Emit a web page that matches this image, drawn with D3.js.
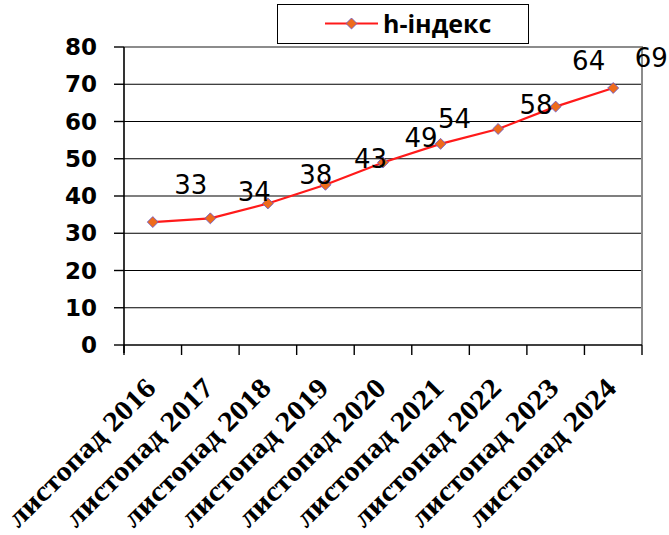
<!DOCTYPE html>
<html>
<head>
<meta charset="utf-8">
<script src="https://cdn.jsdelivr.net/npm/d3@7"></script>
<style>
  html, body { margin: 0; padding: 0; background: #fff; }
  svg { display: block; }
</style>
</head>
<body>
<svg id="chart" width="669" height="535"></svg>
<script>
// ---- data ----
const categories = ["листопад 2016", "листопад 2017", "листопад 2018", "листопад 2019",
                    "листопад 2020", "листопад 2021", "листопад 2022", "листопад 2023", "листопад 2024"];
const hIndex = [33, 34, 38, 43, 49, 54, 58, 64, 69];
const yTicks = [0, 10, 20, 30, 40, 50, 60, 70, 80];
const seriesName = "h-індекс";
// manual label nudges (as placed in the original chart)
const labelDx = [38, 44, 48, 45, 38, 14, 38, 33, 38];
const labelDy = [-37, -26, -28, -26, -24, -25, -24, -46, -30];

// ---- layout ----
const svg = d3.select("#chart");
const plot = { left: 124, right: 642, top: 47, bottom: 345 };

const x = d3.scaleBand().domain(categories).range([plot.left, plot.right]).padding(0);
const y = d3.scaleLinear().domain([0, 80]).range([plot.bottom, plot.top]);
const cx = c => x(c) + x.bandwidth() / 2;

svg.append("rect").attr("width", 669).attr("height", 535).attr("fill", "#fff");

// gridlines
svg.append("g").selectAll("line").data(yTicks.filter(t => t > 0 && t < 80)).join("line")
  .attr("x1", plot.left).attr("x2", plot.right)
  .attr("y1", d => y(d)).attr("y2", d => y(d))
  .attr("stroke", "#000").attr("stroke-width", 1.2);

// plot border (top/right gray)
svg.append("path")
  .attr("d", `M${plot.left},${y(80)}H${plot.right}V${plot.bottom}`)
  .attr("fill", "none").attr("stroke", "#8c8c8c").attr("stroke-width", 2);

// y axis
const yAxis = svg.append("g");
yAxis.append("line").attr("x1", plot.left).attr("x2", plot.left)
  .attr("y1", y(80)).attr("y2", plot.bottom + 8).attr("stroke", "#000").attr("stroke-width", 1.6);
yAxis.selectAll("line.tick").data(yTicks).join("line").attr("class", "tick")
  .attr("x1", plot.left - 10).attr("x2", plot.left)
  .attr("y1", d => y(d)).attr("y2", d => y(d))
  .attr("stroke", "#000").attr("stroke-width", 1.4);
yAxis.selectAll("text").data(yTicks).join("text")
  .attr("x", 97).attr("y", d => y(d))
  .attr("text-anchor", "end").attr("dominant-baseline", "central")
  .attr("font-family", "DejaVu Sans").attr("font-weight", "bold").attr("font-size", 23)
  .attr("fill", "#000")
  .text(d => d);

// x axis
const xAxis = svg.append("g");
xAxis.append("line").attr("x1", plot.left).attr("x2", plot.right)
  .attr("y1", plot.bottom).attr("y2", plot.bottom).attr("stroke", "#000").attr("stroke-width", 1.6);
const bounds = categories.map(c => x(c)).concat([x(categories[categories.length - 1]) + x.bandwidth()]);
xAxis.selectAll("line.tick").data(bounds).join("line").attr("class", "tick")
  .attr("x1", d => d).attr("x2", d => d)
  .attr("y1", plot.bottom).attr("y2", plot.bottom + 10)
  .attr("stroke", "#000").attr("stroke-width", 1.4);
xAxis.selectAll("text").data(categories).join("text")
  .attr("transform", c => `translate(${cx(c) - 2},${plot.bottom + 38}) rotate(-45) scale(1.1,1)`)
  .attr("text-anchor", "end").attr("dominant-baseline", "central")
  .attr("font-family", "Liberation Serif").attr("font-weight", "bold").attr("font-size", 28)
  .attr("fill", "#000")
  .text(c => c);

// line
const line = d3.line().x((d, i) => cx(categories[i])).y(d => y(d));
svg.append("path").datum(hIndex).attr("d", line)
  .attr("fill", "none").attr("stroke", "#ff1a1a").attr("stroke-width", 2.2);

// markers (square rotated 45°)
const marker = d3.symbol().type(d3.symbolSquare).size(60);
svg.append("g").selectAll("path").data(hIndex).join("path")
  .attr("transform", (d, i) => `translate(${cx(categories[i])},${y(d)}) rotate(45)`)
  .attr("d", marker)
  .attr("fill", "#ee6b1c").attr("stroke", "#6a5acd").attr("stroke-width", 0.8);

// data labels
svg.append("g").selectAll("text").data(hIndex).join("text")
  .attr("x", (d, i) => cx(categories[i]) + labelDx[i])
  .attr("y", (d, i) => y(d) + labelDy[i])
  .attr("text-anchor", "middle").attr("dominant-baseline", "central")
  .attr("font-family", "DejaVu Sans").attr("font-size", 26).attr("fill", "#000")
  .text(d => d);

// legend
const lg = svg.append("g");
lg.append("rect").attr("x", 277.5).attr("y", 4.5).attr("width", 251).attr("height", 39)
  .attr("fill", "#fff").attr("stroke", "#000").attr("stroke-width", 1);
lg.append("line").attr("x1", 325).attr("x2", 378).attr("y1", 23.5).attr("y2", 23.5)
  .attr("stroke", "#ff1a1a").attr("stroke-width", 2.2);
lg.append("path").attr("transform", "translate(351.5,23.5) rotate(45)").attr("d", marker)
  .attr("fill", "#ee6b1c").attr("stroke", "#6a5acd").attr("stroke-width", 0.8);
lg.append("text").attr("x", 383).attr("y", 33)
  .attr("font-family", "Open Sans").attr("font-weight", "bold").attr("font-size", 25)
  .attr("fill", "#000").text(seriesName);
</script>
</body>
</html>
